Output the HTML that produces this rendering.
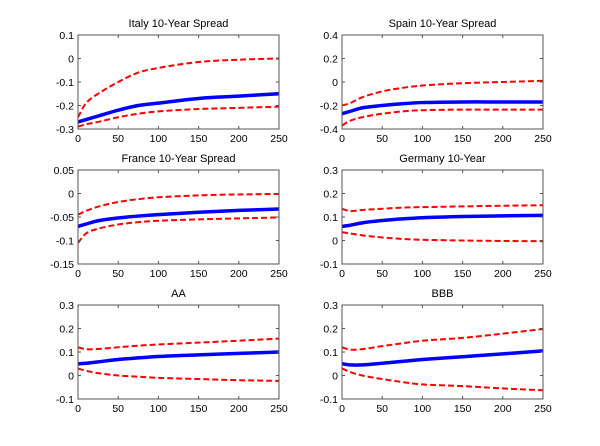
<!DOCTYPE html>
<html><head><meta charset="utf-8"><style>
html,body{margin:0;padding:0;background:#fff;}
svg{display:block;font-family:"Liberation Sans",Arial,sans-serif;}
</style></head><body>
<svg id="c" width="600" height="446"></svg>
<script>
const xs = [0,10,25,50,75,100,150,200,250];
const titles = ["Italy 10-Year Spread","Spain 10-Year Spread","France 10-Year Spread","Germany 10-Year","AA","BBB"];
const yMins = [-0.3,-0.4,-0.15,-0.1,-0.1,-0.1];
const yMaxs = [0.1,0.4,0.05,0.3,0.3,0.3];
const ySteps = [0.1,0.2,0.05,0.1,0.1,0.1];
const xTicks = [0,50,100,150,200,250];
const meanSeries = [
 [-0.27,-0.26,-0.245,-0.22,-0.2,-0.19,-0.17,-0.16,-0.15],
 [-0.27,-0.25,-0.22,-0.2,-0.185,-0.175,-0.17,-0.17,-0.17],
 [-0.07,-0.065,-0.058,-0.052,-0.048,-0.045,-0.04,-0.036,-0.033],
 [0.06,0.065,0.075,0.085,0.092,0.097,0.102,0.105,0.107],
 [0.05,0.052,0.058,0.068,0.075,0.081,0.088,0.094,0.1],
 [0.05,0.045,0.045,0.052,0.06,0.068,0.08,0.092,0.105]
];
const upperSeries = [
 [-0.25,-0.19,-0.15,-0.1,-0.06,-0.04,-0.015,-0.005,0.0],
 [-0.2,-0.18,-0.13,-0.08,-0.05,-0.03,-0.01,0,0.01],
 [-0.045,-0.037,-0.028,-0.018,-0.012,-0.008,-0.004,-0.002,-0.001],
 [0.135,0.125,0.13,0.135,0.14,0.142,0.145,0.148,0.15],
 [0.12,0.112,0.113,0.12,0.127,0.132,0.14,0.148,0.157],
 [0.12,0.11,0.112,0.125,0.137,0.148,0.16,0.178,0.198]
];
const lowerSeries = [
 [-0.29,-0.28,-0.27,-0.25,-0.235,-0.225,-0.215,-0.21,-0.205],
 [-0.37,-0.33,-0.3,-0.27,-0.25,-0.24,-0.235,-0.235,-0.235],
 [-0.105,-0.085,-0.075,-0.066,-0.061,-0.058,-0.055,-0.053,-0.051],
 [0.035,0.03,0.022,0.013,0.007,0.003,0,-0.002,-0.003],
 [0.03,0.02,0.01,0,-0.005,-0.01,-0.015,-0.02,-0.023],
 [0.03,0.015,0,-0.015,-0.028,-0.038,-0.045,-0.055,-0.063]
];
const NS="http://www.w3.org/2000/svg";
const svg=document.getElementById('c');
const lefts=[78,342], tops=[35,170,305], W=201, H=94;
function mk(tag,attrs,parent){const e=document.createElementNS(NS,tag);for(const k in attrs)e.setAttribute(k,attrs[k]);parent.appendChild(e);return e;}
function smoothPath(pts){
  const n=pts.length, m=[];
  for(let i=0;i<n;i++){
    const a=pts[Math.max(0,i-1)], b=pts[Math.min(n-1,i+1)];
    m.push((b[1]-a[1])/(b[0]-a[0]));
  }
  let d=`M${pts[0][0]},${pts[0][1]}`;
  for(let i=0;i<n-1;i++){
    const p1=pts[i],p2=pts[i+1],dx=(p2[0]-p1[0])/3;
    d+=` C${p1[0]+dx},${p1[1]+m[i]*dx} ${p2[0]-dx},${p2[1]-m[i+1]*dx} ${p2[0]},${p2[1]}`;
  }
  return d;
}
for(let p=0;p<6;p++){
  const L=lefts[p%2],T=tops[Math.floor(p/2)];
  const g=mk('g',{},svg);
  
  
  const xS=v=>L+v/250*W;
  const yS=v=>T+H-(v-yMins[p])/(yMaxs[p]-yMins[p])*H;
  const t=mk('text',{x:L+W/2,y:T-8,'text-anchor':'middle','font-size':11},g);
  t.textContent=titles[p];
  
  
  const clipId='cl'+p;
  const cp=mk('clipPath',{id:clipId},g);mk('rect',{x:L,y:T,width:W,height:H},cp);
  const plot=mk('g',{'clip-path':`url(#${clipId})`},g);
  const series=[[upperSeries[p],'#f00',2,'6,3','upper-band'],[lowerSeries[p],'#f00',2,'6,3','lower-band'],[meanSeries[p],'#00f',3.5,'','mean-response']];
  for(const [arr,col,w,dash,name] of series){
    const pts=arr.map((v,i)=>[xS(xs[i]),yS(v)]);
    const path=mk('path',{d:smoothPath(pts),fill:'none',stroke:col,'stroke-width':w,'stroke-dasharray':dash},plot);
    
    
  }
  const box=mk('rect',{x:L,y:T,width:W,height:H,fill:'none',stroke:'#555','stroke-width':1},g);
  
  
  for(const xv of xTicks){
    const x=xS(xv);
    mk('line',{x1:x,x2:x,y1:T+H,y2:T+H-3,stroke:'#555'},g);
    mk('line',{x1:x,x2:x,y1:T,y2:T+3,stroke:'#555'},g);
    const tx=mk('text',{x:x,y:T+H+13,'text-anchor':'middle','font-size':10.5},g);
    tx.textContent=xv;
    
    
  }
  const n=Math.round((yMaxs[p]-yMins[p])/ySteps[p]);
  for(let i=0;i<=n;i++){
    const v=yMins[p]+i*ySteps[p];const y=yS(v);
    mk('line',{x1:L,x2:L+3,y1:y,y2:y,stroke:'#555'},g);
    mk('line',{x1:L+W,x2:L+W-3,y1:y,y2:y,stroke:'#555'},g);
    let s=Math.abs(v)<1e-9?'0':String(+v.toFixed(2));
    const ty=mk('text',{x:L-4,y:y+4,'text-anchor':'end','font-size':10.5},g);
    ty.textContent=s;
    
    
  }
}
</script>
</body></html>
